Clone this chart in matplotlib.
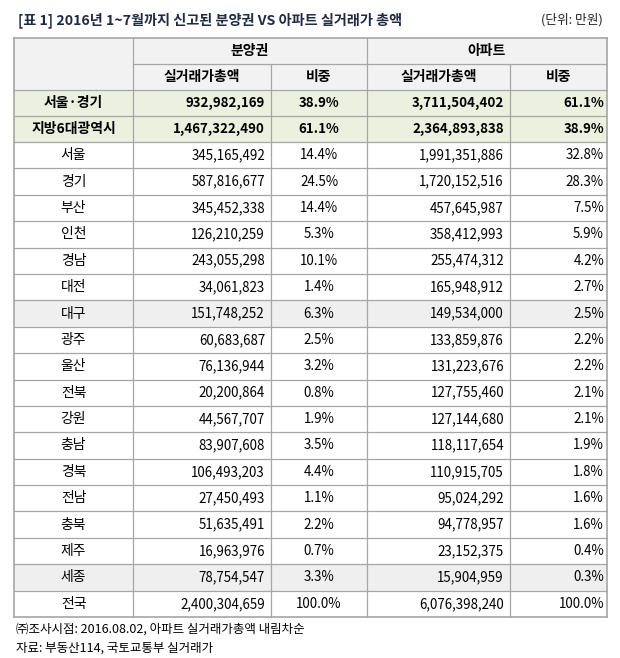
import matplotlib
matplotlib.use("Agg")
import matplotlib.pyplot as plt
from matplotlib.patches import Rectangle

plt.rcParams['font.family'] = ['Noto Sans CJK KR', 'DejaVu Sans']

title = "[표 1] 2016년 1~7월까지 신고된 분양권 VS 아파트 실거래가 총액"
unit = "(단위: 만원)"
groups = ["분양권", "아파트"]
subheads = ["실거래가총액", "비중", "실거래가총액", "비중"]
regions = ["서울·경기", "지방6대광역시", "서울", "경기", "부산", "인천", "경남", "대전", "대구",
           "광주", "울산", "전북", "강원", "충남", "경북", "전남", "충북", "제주", "세종", "전국"]
presale_amt = ["932,982,169", "1,467,322,490", "345,165,492", "587,816,677", "345,452,338",
               "126,210,259", "243,055,298", "34,061,823", "151,748,252", "60,683,687",
               "76,136,944", "20,200,864", "44,567,707", "83,907,608", "106,493,203",
               "27,450,493", "51,635,491", "16,963,976", "78,754,547", "2,400,304,659"]
presale_pct = ["38.9%", "61.1%", "14.4%", "24.5%", "14.4%", "5.3%", "10.1%", "1.4%", "6.3%",
               "2.5%", "3.2%", "0.8%", "1.9%", "3.5%", "4.4%", "1.1%", "2.2%", "0.7%", "3.3%", "100.0%"]
apt_amt = ["3,711,504,402", "2,364,893,838", "1,991,351,886", "1,720,152,516", "457,645,987",
           "358,412,993", "255,474,312", "165,948,912", "149,534,000", "133,859,876",
           "131,223,676", "127,755,460", "127,144,680", "118,117,654", "110,915,705",
           "95,024,292", "94,778,957", "23,152,375", "15,904,959", "6,076,398,240"]
apt_pct = ["61.1%", "38.9%", "32.8%", "28.3%", "7.5%", "5.9%", "4.2%", "2.7%", "2.5%", "2.2%",
           "2.2%", "2.1%", "2.1%", "1.9%", "1.8%", "1.6%", "1.6%", "0.4%", "0.3%", "100.0%"]
notes = ["㈜조사시점: 2016.08.02, 아파트 실거래가총액 내림차순", "자료: 부동산114, 국토교통부 실거래가"]

W, H = 620, 658
fig = plt.figure(figsize=(W/100, H/100), dpi=100)
ax = fig.add_axes([0, 0, 1, 1])
ax.set_xlim(0, W); ax.set_ylim(H, 0); ax.axis('off')

cols = [14, 133, 271, 367, 510, 607]
hdr = [38, 64, 90]
row_tops = [90, 116]
rh = (617 - 142) / 18
row_tops += [142 + i*rh for i in range(19)]
row_bot = row_tops[1:]
border = '#a6a6a6'
fs = 9.6

ax.text(18, 20, title, fontsize=10.2, fontweight='bold', color='#1f2a44', va='center')
ax.text(603, 20, unit, fontsize=9.2, color='#222222', va='center', ha='right')

ax.add_patch(Rectangle((cols[0], hdr[0]), cols[-1]-cols[0], hdr[2]-hdr[0], color='#f2f2f2', lw=0))
for i in range(len(regions)):
    y0, y1 = row_tops[i], row_bot[i]
    if i < 2:
        c = '#ebf1de'
    elif regions[i] in ("대구", "세종"):
        c = '#efefef'
    else:
        c = 'white'
    ax.add_patch(Rectangle((cols[0], y0), cols[-1]-cols[0], y1-y0, color=c, lw=0))

ax.text((cols[1]+cols[3])/2, (hdr[0]+hdr[1])/2, groups[0], ha='center', va='center', fontsize=fs+0.4, fontweight='bold')
ax.text((cols[3]+cols[5])/2, (hdr[0]+hdr[1])/2, groups[1], ha='center', va='center', fontsize=fs+0.4, fontweight='bold')
for j, s in enumerate(subheads):
    ax.text((cols[j+1]+cols[j+2])/2, (hdr[1]+hdr[2])/2, s, ha='center', va='center', fontsize=fs+0.4, fontweight='bold')

for i, r in enumerate(regions):
    yc = (row_tops[i] + row_bot[i]) / 2
    fw = 'bold' if i < 2 else 'normal'
    ax.text((cols[0]+cols[1])/2, yc, r, ha='center', va='center', fontsize=fs+0.4, fontweight=fw)
    ax.text(cols[2]-6, yc, presale_amt[i], ha='right', va='center', fontsize=fs, fontweight=fw)
    ax.text((cols[2]+cols[3])/2, yc, presale_pct[i], ha='center', va='center', fontsize=fs, fontweight=fw)
    ax.text(cols[4]-6, yc, apt_amt[i], ha='right', va='center', fontsize=fs, fontweight=fw)
    ax.text(cols[5]-3, yc, apt_pct[i], ha='right', va='center', fontsize=fs, fontweight=fw)

lw = 0.9
ax.plot([cols[0], cols[-1]], [hdr[0]]*2, color=border, lw=1.2)
ax.plot([cols[1], cols[-1]], [hdr[1]]*2, color=border, lw=lw)
for y in [hdr[2]] + row_bot:
    ax.plot([cols[0], cols[-1]], [y, y], color=border, lw=lw if y != row_bot[-1] else 1.2)
for k, x in enumerate(cols):
    top = hdr[1] if k in (2, 4) else hdr[0]
    ax.plot([x, x], [top, row_bot[-1]], color=border, lw=1.2 if k in (0, 5) else lw)

ax.text(16, 629, notes[0], fontsize=9, va='center')
ax.text(16, 648, notes[1], fontsize=9, va='center')

fig.savefig('out.png', dpi=100)
